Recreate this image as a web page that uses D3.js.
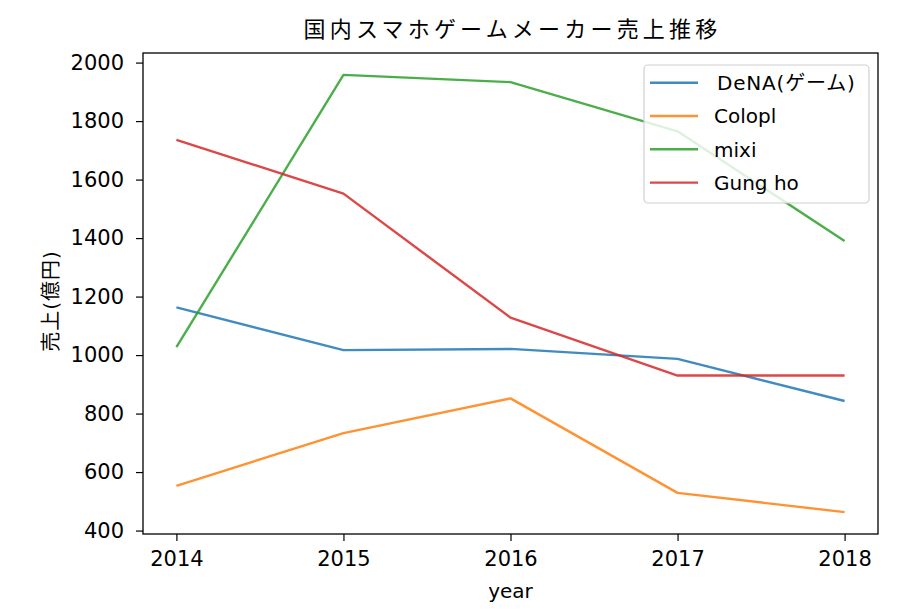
<!DOCTYPE html>
<html><head><meta charset="utf-8">
<script src="https://cdn.jsdelivr.net/npm/d3@7"></script>
<style>
body{margin:0;background:#fff;}
text{font-family:"DejaVu Sans","Noto Sans CJK JP",sans-serif;fill:#000;}
</style></head>
<body><svg id="c" width="920" height="616"></svg>
<script>
const years = [2014, 2015, 2016, 2017, 2018];
const seriesNames = ["DeNA(ゲーム)", "Colopl", "mixi", "Gung ho"];
const dena = [1163, 1017, 1021, 987, 843];
const colopl = [553, 733, 852, 529, 463];
const mixi = [1027, 1958, 1933, 1765, 1390];
const gungho = [1736, 1552, 1128, 930, 930];
const yTicks = [400, 600, 800, 1000, 1200, 1400, 1600, 1800, 2000];
const colors = ["#1f77b4", "#ff7f0e", "#2ca02c", "#d62728"];
const title = "国内スマホゲームメーカー売上推移";
const xLabel = "year";
const yLabel = "売上(億円)";

const allSeries = [dena, colopl, mixi, gungho];
const svg = d3.select("#c");
const L = 143, R = 878, T = 53, B = 534;

const allVals = allSeries.flat();
const vmin = d3.min(allVals), vmax = d3.max(allVals);
const pad = (vmax - vmin) * 0.05;
const x = d3.scaleLinear().domain([2013.8, 2018.2]).range([L, R]);
const y = d3.scaleLinear().domain([vmin - pad, vmax + pad]).range([B, T]);

// x axis
const xAxis = svg.append("g").attr("transform", `translate(0,${B})`)
  .call(d3.axisBottom(x).tickValues(years).tickFormat(d3.format("d")).tickSize(7).tickPadding(10));
xAxis.select(".domain").remove();
xAxis.selectAll("line").attr("stroke", "#000").attr("stroke-width", 1.2);
xAxis.selectAll("text").attr("font-size", 21).attr("fill", "#000").attr("font-family", "DejaVu Sans");

// y axis
const yAxis = svg.append("g").attr("transform", `translate(${L},0)`)
  .call(d3.axisLeft(y).tickValues(yTicks).tickFormat(d3.format("d")).tickSize(7).tickPadding(12));
yAxis.select(".domain").remove();
yAxis.selectAll("line").attr("stroke", "#000").attr("stroke-width", 1.2);
yAxis.selectAll("text").attr("font-size", 21).attr("fill", "#000").attr("font-family", "DejaVu Sans");

// lines
const line = d3.line().x((d, i) => x(years[i])).y(d => y(d));
allSeries.forEach((s, i) => {
  svg.append("path").datum(s).attr("d", line)
    .attr("fill", "none").attr("stroke", colors[i]).attr("stroke-width", 2.4)
    .attr("stroke-opacity", 0.85).attr("stroke-linejoin", "round");
});

// frame
svg.append("rect").attr("x", L).attr("y", T).attr("width", R - L).attr("height", B - T)
  .attr("fill", "none").attr("stroke", "#000").attr("stroke-width", 1.3);

// title
svg.append("text").attr("x", (L + R) / 2 + 2).attr("y", 37).attr("text-anchor", "middle")
  .attr("font-size", 22).attr("letter-spacing", 4.2).attr("font-family", "Noto Sans CJK JP")
  .text(title);

// x label
svg.append("text").attr("x", (L + R) / 2).attr("y", 598).attr("text-anchor", "middle")
  .attr("font-size", 20).text(xLabel);

// y label
svg.append("text").attr("transform", `translate(58,301) rotate(-90)`).attr("text-anchor", "middle")
  .attr("font-size", 20).attr("letter-spacing", 1).text(yLabel);

// legend
const lg = svg.append("g");
lg.append("rect").attr("x", 644).attr("y", 65).attr("width", 225).attr("height", 138)
  .attr("rx", 4).attr("fill", "#fff").attr("fill-opacity", 0.82)
  .attr("stroke", "#d0d0d0").attr("stroke-width", 1.2);
seriesNames.forEach((n, i) => {
  const cy = 82.7 + i * 33.3;
  lg.append("line").attr("x1", 650).attr("x2", 698).attr("y1", cy).attr("y2", cy)
    .attr("stroke", colors[i]).attr("stroke-width", 2.4).attr("stroke-opacity", 0.85);
  lg.append("text").attr("x", i === 0 ? 717 : 714).attr("y", cy).attr("dy", "0.36em")
    .attr("font-size", 20).attr("letter-spacing", i === 0 ? 0.8 : 0).text(n);
});
</script></body></html>
